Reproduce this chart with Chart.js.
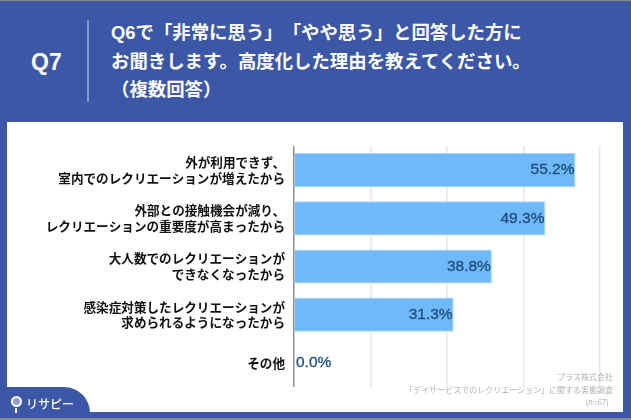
<!DOCTYPE html>
<html lang="ja">
<head>
<meta charset="utf-8">
<script src="https://cdn.jsdelivr.net/npm/chart.js@4"></script>
<style>
html, body { margin: 0; padding: 0; }
body { width: 631px; height: 420px; overflow: hidden; position: relative; background: #3b57a5; font-family: "Noto Sans CJK JP", sans-serif; }
.topline { position: absolute; left: 0; top: 0; width: 631px; height: 1px; background: #8a8a86; }
.botline { position: absolute; left: 0; top: 418px; width: 631px; height: 2px; background: #8a8a86; }
.panel { position: absolute; left: 7px; top: 122px; width: 616px; height: 290px; background: #fff; }
.qno { position: absolute; left: 31px; top: 47px; color: #fff; font: 700 23px/30px "Liberation Sans", sans-serif; }
.divider { position: absolute; left: 87px; top: 20px; width: 1.5px; height: 82px; background: #8496c6; }
.title { position: absolute; left: 111px; top: 19px; color: #fff; font-family: "Liberation Sans", "Noto Sans CJK JP", sans-serif; font-weight: 700; font-size: 18.4px; line-height: 28.5px; white-space: pre; text-spacing-trim: space-all; font-feature-settings: "palt" 0, "chws" 0; }
canvas { position: absolute; left: 0; top: 0; }
.note { position: absolute; right: 18px; top: 371px; color: #b0b0b0; font-size: 8px; line-height: 12.5px; text-align: right; }
.note .n { padding-right: 4px; }
.logo { position: absolute; left: 0; top: 387px; width: 90px; height: 33px; background: #3b57a5; border-top-right-radius: 26px; }
.pin { position: absolute; left: 11px; top: 396px; width: 7px; height: 7px; border: 2.5px solid #fff; border-radius: 50%; background: #8fa0cc; }
.stem { position: absolute; left: 15px; top: 408px; width: 2px; height: 5px; background: #fff; }
.brand { position: absolute; left: 26px; top: 391px; color: #fff; font-weight: 500; font-size: 12px; line-height: 26px; white-space: pre; }
</style>
</head>
<body>
<div class="panel"></div>
<div class="topline"></div>
<div class="qno">Q7</div>
<div class="divider"></div>
<div class="title">Q6で「非常に思う」「やや思う」と回答した方に
お聞きします。高度化した理由を教えてください。
（複数回答）</div>
<canvas id="reasonChart" width="631" height="420"></canvas>
<div class="note">プラス株式会社<br>「デイサービスでのレクリエーション」に関する実態調査<br><span class="n">(n=67)</span></div>
<div class="logo"></div>
<div class="pin"></div>
<div class="stem"></div>
<div class="brand">リサピー</div>
<div class="botline"></div>
<script>
const categories = [
    ['外が利用できず、', '室内でのレクリエーションが増えたから'],
    ['外部との接触機会が減り、', 'レクリエーションの重要度が高まったから'],
    ['大人数でのレクリエーションが', 'できなくなったから'],
    ['感染症対策したレクリエーションが', '求められるようになったから'],
    'その他'
];
const percentValues = [55.2, 49.3, 38.8, 31.3, 0.0];
const axisTicks = [0, 15, 30, 45, 60];

// Draw the percent labels at the end of each bar
const valueLabels = {
    id: 'valueLabels',
    afterDatasetsDraw(chart) {
        const ctx = chart.ctx;
        const bars = chart.getDatasetMeta(0).data;
        ctx.save();
        ctx.font = '15.5px "Liberation Sans", sans-serif';
        ctx.fillStyle = '#1f4f80';
        ctx.strokeStyle = '#1f4f80';
        ctx.lineWidth = 0.35;
        ctx.textBaseline = 'middle';
        bars.forEach((bar, i) => {
            const value = percentValues[i];
            const text = value.toFixed(1) + '%';
            const x = value > 0 ? bar.x - 1 : bar.x + 2;
            ctx.textAlign = value > 0 ? 'right' : 'left';
            ctx.fillText(text, x, bar.y);
            ctx.strokeText(text, x, bar.y);
        });
        ctx.restore();
    }
};

const reasonChart = new Chart(document.getElementById('reasonChart').getContext('2d'), {
    type: 'bar',
    data: {
        labels: categories,
        datasets: [{
            data: percentValues,
            backgroundColor: '#6fb9fa',
            borderColor: '#a9d5f7',
            borderWidth: 1,
            categoryPercentage: 0.71,
            barPercentage: 1
        }]
    },
    options: {
        indexAxis: 'y',
        responsive: false,
        animation: false,
        layout: { padding: { left: 0, right: 31, top: 146, bottom: 33 } },
        plugins: { legend: { display: false }, tooltip: { enabled: false } },
        scales: {
            x: {
                min: 0,
                max: 60,
                afterBuildTicks: axis => { axis.ticks = axisTicks.map(v => ({ value: v })); },
                ticks: { display: false },
                border: { display: false },
                grid: {
                    drawTicks: false,
                    lineWidth: 1.5,
                    color: ctx => ctx.tick.value === 0 ? '#8d8d8d' : '#e6e6e6'
                }
            },
            y: {
                afterFit: axis => { axis.width = 294; },
                border: { display: false },
                grid: { display: false, drawTicks: false },
                ticks: {
                    color: '#111',
                    padding: 9,
                    font: { family: '"Noto Sans CJK JP", sans-serif', size: 12.6, weight: 700, lineHeight: 1.25 }
                }
            }
        }
    },
    plugins: [valueLabels]
});
</script>
</body>
</html>
